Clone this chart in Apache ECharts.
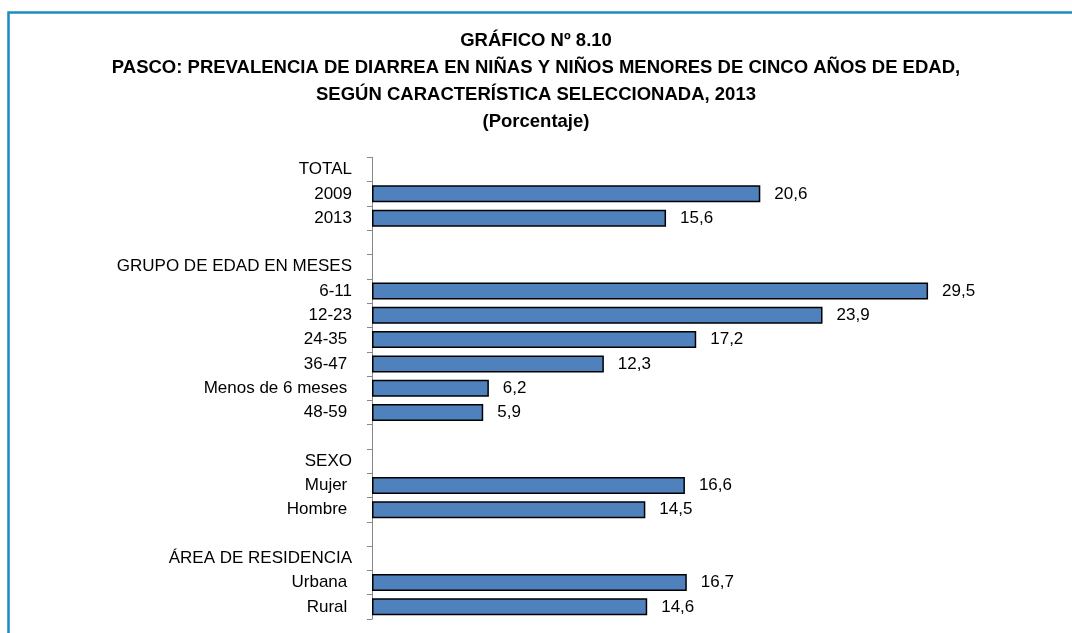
<!DOCTYPE html>
<html><head><meta charset="utf-8">
<script src="https://cdn.jsdelivr.net/npm/echarts@6/dist/echarts.min.js"></script>
<style>html,body{margin:0;padding:0;background:#fff}#c{width:1072px;height:633px}</style>
</head><body><div id="c"></div>
<script>
const categories = ['TOTAL','2009','2013','', 'GRUPO DE EDAD EN MESES','6-11','12-23','24-35 ','36-47 ','Menos de 6 meses ','48-59 ',' ', 'SEXO','Mujer ','Hombre ','  ', 'ÁREA DE RESIDENCIA','Urbana ','Rural '];
const values = [null,20.6,15.6,null, null,29.5,23.9,17.2,12.3,6.2,5.9,null, null,16.6,14.5,null, null,16.7,14.6];
const titleLines = ['GRÁFICO Nº 8.10','PASCO: PREVALENCIA DE DIARREA EN NIÑAS Y NIÑOS MENORES DE CINCO AÑOS DE EDAD,','SEGÚN CARACTERÍSTICA SELECCIONADA, 2013','(Porcentaje)'];

const FONT = "'Liberation Sans Narrow','Arial Narrow','Liberation Sans',sans-serif";
const chart = echarts.init(document.getElementById('c'));
chart.setOption({
  animation:false,
  backgroundColor:'#fff',
  title:{text:titleLines.join('\n'),left:'center',top:22,
    textStyle:{fontFamily:FONT,fontSize:18.5,fontWeight:'bold',color:'#000',lineHeight:27}},
  graphic:[{type:'rect',shape:{x:8.5,y:12.5,width:1100,height:700},
    style:{fill:'none',stroke:'#1f8bc0',lineWidth:2.5},silent:true}],
  grid:{left:372,top:157.4,right:134.5,bottom:14,containLabel:false},
  xAxis:{type:'value',min:0,max:30,show:false},
  yAxis:{type:'category',data:categories,inverse:true,
    axisLine:{lineStyle:{color:'#888',width:1}},
    axisTick:{show:true,length:5,lineStyle:{color:'#888'}},
    axisLabel:{fontFamily:FONT,fontSize:17,color:'#000',margin:20},
    splitLine:{show:false}},
  series:[{type:'bar',data:values,barWidth:17,
    itemStyle:{color:'#4f81bd',borderColor:'#000',borderWidth:1.5},
    label:{show:true,position:'right',distance:14,fontFamily:FONT,fontSize:17,color:'#000',
      formatter:p=>p.value==null?'':p.value.toFixed(1).replace('.',',')}}]
});
</script></body></html>
